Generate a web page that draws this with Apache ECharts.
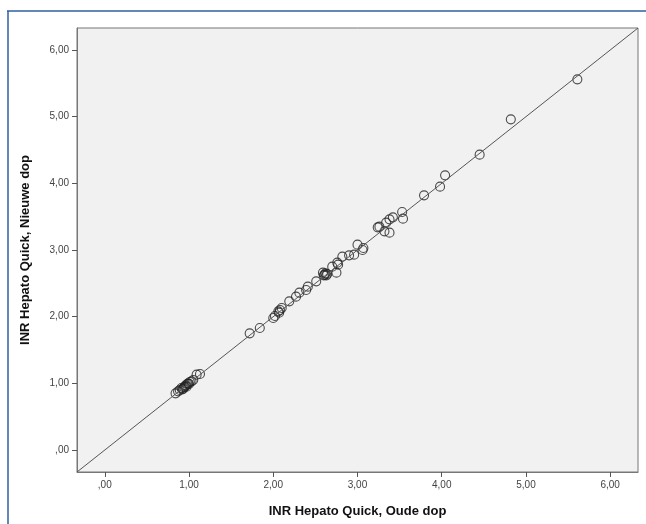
<!doctype html>
<html>
<head>
<meta charset="utf-8">
<title>INR Hepato Quick</title>
<script src="https://cdn.jsdelivr.net/npm/echarts@6/dist/echarts.min.js"></script>
<style>
  html, body { margin: 0; padding: 0; background: #fff; }
  #main { width: 646px; height: 524px; }
</style>
</head>
<body>
<div id="main"></div>
<script>
// INR Hepato Quick: old cap (x) vs new cap (y)
var oudeDop = [
  0.84, 0.87, 0.89, 0.91, 0.92, 0.93, 0.94, 0.95, 0.96, 0.97, 0.98, 0.99, 1.00, 1.01, 1.03, 1.05, 1.09, 1.13,
  1.72, 1.84, 2.00, 2.02, 2.06, 2.07, 2.08, 2.10, 2.19, 2.27, 2.31, 2.39, 2.41, 2.51, 2.59, 2.60, 2.61, 2.62,
  2.63, 2.64, 2.70, 2.75, 2.76, 2.77, 2.82, 2.90, 2.96, 3.00, 3.06, 3.07,
  3.24, 3.26, 3.32, 3.34, 3.38, 3.38, 3.42, 3.53, 3.54, 3.79, 3.98, 4.04, 4.45, 4.82, 5.61
];
var nieuweDop = [
  0.85, 0.88, 0.90, 0.93, 0.91, 0.92, 0.94, 0.95, 0.97, 0.95, 0.99, 1.00, 0.99, 1.02, 1.03, 1.05, 1.13, 1.14,
  1.75, 1.83, 1.98, 2.01, 2.08, 2.06, 2.10, 2.13, 2.23, 2.30, 2.36, 2.40, 2.45, 2.53, 2.66, 2.62, 2.63, 2.65,
  2.62, 2.64, 2.75, 2.66, 2.81, 2.78, 2.90, 2.92, 2.93, 3.08, 3.00, 3.03,
  3.34, 3.35, 3.28, 3.41, 3.26, 3.46, 3.49, 3.57, 3.47, 3.82, 3.95, 4.12, 4.43, 4.96, 5.56
];
var tickValues = [0, 1, 2, 3, 4, 5, 6];
var axisMin = -0.33, axisMax = 6.33;
var refLine = [[axisMin, axisMin], [axisMax, axisMax]];

var points = oudeDop.map(function (x, i) { return [x, nieuweDop[i]]; });

function fmt(v) {
  var s = v.toFixed(2).replace('.', ',');
  if (s.indexOf('0,') === 0) s = s.substring(1);
  return s;
}

function makeAxis(name, nameGap) {
  return {
    type: 'value',
    min: axisMin,
    max: axisMax,
    name: name,
    nameLocation: 'middle',
    nameGap: nameGap,
    nameTextStyle: { fontFamily: 'Liberation Sans', fontWeight: 'bold', fontSize: 13, color: '#111' },
    splitLine: { show: false },
    axisLine: { show: true, onZero: false, lineStyle: { color: '#777', width: 1 } },
    axisTick: { show: true, length: 5, customValues: tickValues, lineStyle: { color: '#555' } },
    axisLabel: {
      customValues: tickValues,
      formatter: fmt,
      margin: 8,
      fontFamily: 'Liberation Sans',
      fontSize: 10,
      color: '#444'
    }
  };
}

var chart = echarts.init(document.getElementById('main'), null, { renderer: 'canvas' });
chart.setOption({
  animation: false,
  backgroundColor: '#fff',
  grid: {
    left: 77, top: 28, right: 8, bottom: 52,
    show: true,
    backgroundColor: '#f1f1f1',
    borderColor: '#777',
    borderWidth: 1
  },
  xAxis: makeAxis('INR Hepato Quick, Oude dop', 33),
  yAxis: makeAxis('INR Hepato Quick, Nieuwe dop', 45),
  graphic: [
    { type: 'line', shape: { x1: 7, y1: 11, x2: 646, y2: 11 }, style: { stroke: '#2f5f9f', lineWidth: 1.5 } },
    { type: 'line', shape: { x1: 8, y1: 11, x2: 8, y2: 524 }, style: { stroke: '#2f5f9f', lineWidth: 1.5 } }
  ],
  series: [
    {
      type: 'line',
      data: refLine,
      symbol: 'none',
      lineStyle: { color: '#555', width: 1 },
      silent: true
    },
    {
      type: 'scatter',
      data: points,
      symbol: 'circle',
      symbolSize: 9,
      itemStyle: { color: 'rgba(0,0,0,0)', borderColor: '#222', borderWidth: 1.1 }
    }
  ]
});
</script>
</body>
</html>
